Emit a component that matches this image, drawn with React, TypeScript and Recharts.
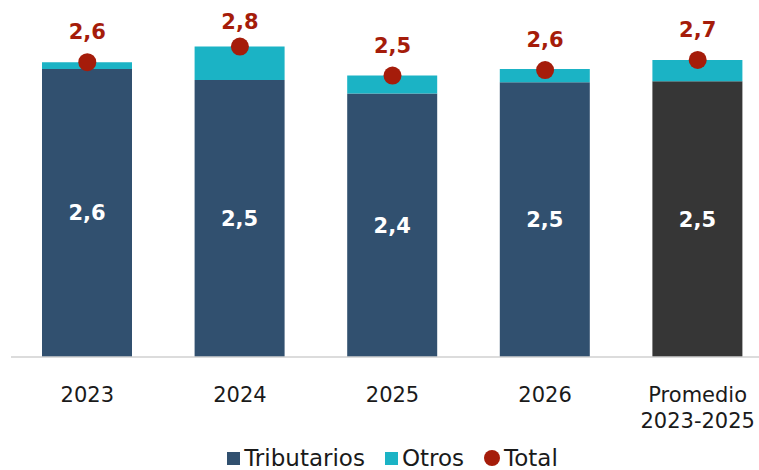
import { BarChart, Bar, Line, XAxis, YAxis, Legend, LabelList, Cell } from "recharts";

// values
const categories = ["2023", "2024", "2025", "2026", "Promedio 2023-2025"];
const tributarios = [2.58, 2.48, 2.36, 2.46, 2.47];
const otros = [0.06, 0.3, 0.16, 0.12, 0.19];
const total = [2.64, 2.78, 2.52, 2.57, 2.66];

const data = categories.map((name, i) => ({
  name,
  trib: tributarios[i],
  otros: otros[i],
  total: total[i],
}));

const NAVY = "#31506f";
const TEAL = "#1bb3c5";
const RED = "#a51c0a";
const GREY = "#363636";
const font = "'DejaVu Sans', Verdana, sans-serif";

const fmt = (v: any) => Number(v).toFixed(1).replace(".", ",");

const CategoryTick = ({ x, y, payload }: any) => {
  const words = String(payload.value).split(" ");
  return (
    <text x={x} y={y} textAnchor="middle" fill="#1a1a1a" fontFamily={font} fontSize={21}>
      {words.map((w, i) => (
        <tspan key={i} x={x} dy={i === 0 ? 37 : 26}>
          {w}
        </tspan>
      ))}
    </text>
  );
};

// total label sits above the dot but is kept inside the chart, like the original
const TotalLabel = ({ x, y, value }: any) => (
  <text
    x={x}
    y={Math.max(y - 23, 29)}
    textAnchor="middle"
    fill={RED}
    fontFamily={font}
    fontWeight={700}
    fontSize={21}
  >
    {fmt(value)}
  </text>
);

const CustomLegend = () => {
  const items = [
    { label: "Tributarios", color: NAVY, size: 13, round: false },
    { label: "Otros", color: TEAL, size: 13, round: false },
    { label: "Total", color: RED, size: 16, round: true },
  ];
  return (
    <div
      style={{
        display: "flex",
        justifyContent: "center",
        alignItems: "center",
        height: 24,
        fontFamily: font,
        fontSize: 23,
        lineHeight: "24px",
        color: "#1a1a1a",
      }}
    >
      {items.map((it, i) => (
        <div key={it.label} style={{ display: "flex", alignItems: "center", marginRight: i < items.length - 1 ? 20 : 0 }}>
          <span
            style={{
              width: it.size,
              height: it.size,
              background: it.color,
              borderRadius: it.round ? it.size / 2 : 0,
              marginRight: 4,
              display: "inline-block",
            }}
          />
          <span>{it.label}</span>
        </div>
      ))}
    </div>
  );
};

export default function App() {
  return (
    <>
      <style>{`body { margin: 0; overflow: hidden; }`}</style>
      <BarChart width={759} height={470} data={data} margin={{ top: 22, right: -15, bottom: 0, left: 11 }}>
        <XAxis
          dataKey="name"
          tickLine={false}
          axisLine={{ stroke: "#d0d0d0", strokeWidth: 1.5 }}
          tick={<CategoryTick />}
          interval={0}
          height={89}
        />
        <YAxis hide domain={[0, 3]} />
        <Legend verticalAlign="bottom" height={24} content={<CustomLegend />} />
        <Bar dataKey="trib" stackId="a" name="Tributarios" fill={NAVY} barSize={90} isAnimationActive={false}>
          {data.map((d, i) => (
            <Cell key={i} fill={i === data.length - 1 ? GREY : NAVY} />
          ))}
          <LabelList
            dataKey="trib"
            position="center"
            formatter={fmt}
            fill="#ffffff"
            style={{ fontFamily: font, fontWeight: 700, fontSize: 21 }}
          />
        </Bar>
        <Bar dataKey="otros" stackId="a" name="Otros" fill={TEAL} barSize={90} isAnimationActive={false} />
        <Line
          dataKey="total"
          name="Total"
          stroke="none"
          dot={{ r: 9, fill: RED, stroke: RED, strokeWidth: 0 }}
          activeDot={false}
          isAnimationActive={false}
        >
          <LabelList dataKey="total" content={<TotalLabel />} />
        </Line>
      </BarChart>
    </>
  );
}
